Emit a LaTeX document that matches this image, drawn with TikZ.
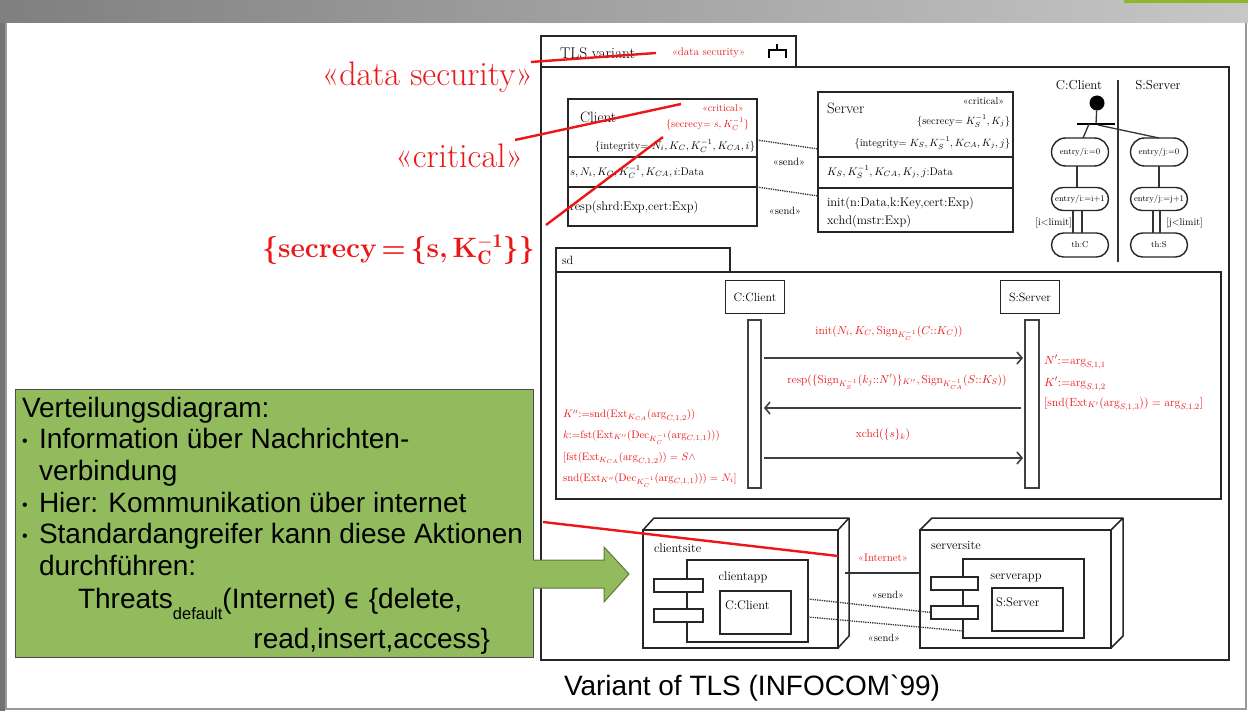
\RequirePackage{fix-cm}
\documentclass[tikz,border=0pt]{standalone}
\usepackage{fontspec}
\newfontfamily\sansf{Liberation Sans}
\newfontfamily\djv{DejaVu Sans}
\usetikzlibrary{arrows.meta,shapes.misc,calc}
\definecolor{annred}{RGB}{236,22,22}
\definecolor{boxgreen}{RGB}{146,187,93}
\definecolor{arrowedge}{RGB}{95,120,60}
\definecolor{accentgreen}{RGB}{141,185,40}
\newcommand{\setfs}[1]{\fontsize{#1}{#1}\selectfont}
\newcommand{\seclabel}{{\bfseries\{secrecy\,=\,\{s,\,K$_{\mathbf{C}}^{\mathbf{-1}}$\}\}}}
\tikzset{
  every node/.style={inner sep=0pt, outer sep=0pt},
  frm/.style={draw=black!85, line width=1.7pt, anchor=north west},
  box/.style={draw=black!85, line width=1.5pt, fill=white, anchor=north west},
  thinbox/.style={draw=black!85, line width=1.2pt, fill=white, anchor=north west},
  sep/.style={draw=black!85, line width=1.5pt},
  txt/.style={font=\setfs{#1}},
  lhead/.style={draw=black!85, line width=1.5pt, fill=white, minimum width=59pt, minimum height=33pt, font=\setfs{12}},
  actbar/.style={draw=black!75, line width=1.5pt, fill=white, anchor=north west},
  msg/.style={draw=black!75, line width=1.8pt, -{Straight Barb[length=5pt,width=12pt,line width=1.6pt]}},
  dotline/.style={draw=black!80, line width=1.3pt, densely dotted},
  state/.style={rounded rectangle, draw=black!85, line width=1.4pt, fill=white, minimum width=57pt, font=\setfs{8.5}},
  trans/.style={draw=black!80, line width=1.3pt},
  annline/.style={draw=annred, line width=2.4pt},
  bigred/.style={text=annred, font=\setfs{34}},
  redsm/.style={text=annred, font=\setfs{#1}},
  gtext/.style={anchor=base west, font=\sansf\setfs{28}},
  gbul/.style={anchor=base west, font=\sansf\setfs{16}},
}
\begin{document}
\begin{tikzpicture}[x=1pt,y=-1pt]
\useasboundingbox (0,0) rectangle (1248,711);
\fill[white] (0,0) rectangle (1248,711);
% header and page frame
\shade[left color=black!50,right color=black!22] (0,0) rectangle (1248,23);
\fill[accentgreen] (1124,0) rectangle (1248,3);
\draw[black!40,line width=1.5pt] (6,23) -- (6,709) -- (1246,709) -- (1246,23);
\fill[black!55] (0,23) rectangle (5,711);

% ---------------- main frame ----------------
\node[frm, minimum width=688pt, minimum height=593pt] (tls) at (541,67) {};
\node[frm, minimum width=255pt, minimum height=31pt] (tlstab) at (541,36) {};
\node[txt=15.5, anchor=west] (tlsname) at (560,53) {TLS variant};
\node[redsm=11, anchor=west] (tlsst) at (672,53) {«data security»};
\draw[line width=1.3pt] (777,44) -- (777,50) (769,58) -- (769,50) -- (786,50) -- (786,58);

% ---------------- class Client ----------------
\node[box, minimum width=189pt, minimum height=127pt] (client) at (568,99) {};
\draw[sep] ($(client.north west)+(0,58)$) -- ($(client.north east)+(0,58)$);
\draw[sep] ($(client.north west)+(0,88)$) -- ($(client.north east)+(0,88)$);
\node[txt=15, anchor=west] (cname) at (580,117) {Client};
\node[redsm=10] (ccrit) at (723,108) {«critical»};
\node[redsm=10.3, anchor=east] (csec) at (749,124) {\{secrecy$=s,K_C^{-1}$\}};
\node[txt=11, anchor=east] (cint) at (755,146) {\{integrity$=N_i,K_C,K_C^{-1},K_{CA},i$\}};
\node[txt=11, anchor=west] (cattr) at (570,172) {$s,N_i,K_C,K_C^{-1},K_{CA},i$:Data};
\node[txt=12.5, anchor=west] (cop) at (570,207) {resp(shrd:Exp,cert:Exp)};

% ---------------- class Server ----------------
\node[box, minimum width=195pt, minimum height=140pt] (server) at (818,92) {};
\draw[sep] ($(server.north west)+(0,65)$) -- ($(server.north east)+(0,65)$);
\draw[sep] ($(server.north west)+(0,96)$) -- ($(server.north east)+(0,96)$);
\node[txt=15, anchor=west] (sname) at (827,108) {Server};
\node[txt=10, anchor=east] (scrit) at (1004,101) {«critical»};
\node[txt=10.5, anchor=east] (ssec) at (1010,121) {\{secrecy$=K_S^{-1},K_j$\}};
\node[txt=10.5, anchor=east] (sint) at (1010,143) {\{integrity$=K_S,K_S^{-1},K_{CA},K_j,j$\}};
\node[txt=11, anchor=west] (sattr) at (827,172) {$K_S,K_S^{-1},K_{CA},K_j,j$:Data};
\node[txt=12.5, anchor=west] (sop1) at (827,203) {init(n:Data,k:Key,cert:Exp)};
\node[txt=12.5, anchor=west] (sop2) at (827,221) {xchd(mstr:Exp)};

\draw[dotline] ($(client.north east)+(0,41)$) -- ($(server.north west)+(0,57)$);
\draw[dotline] ($(client.north east)+(0,88)$) -- ($(server.north west)+(0,104)$);
\node[txt=10.5] (snd1) at (789,162) {«send»};
\node[txt=10.5] (snd2) at (785,211) {«send»};

% ---------------- activity diagram ----------------
\node[txt=13] (aclient) at (1079,85) {C:Client};
\node[txt=13] (aserver) at (1158,85) {S:Server};
\coordinate (divtop) at (1118,80);
\coordinate (divbot) at (1118,262);
\draw[black!80, line width=1.4pt] (divtop) -- (divbot);
\node[circle, fill=black, minimum size=15pt] (ini) at (1097,103) {};
\node[fill=black, minimum width=38pt, minimum height=2.5pt] (fork) at (1096,124) {};
\node[state, minimum height=28pt] (a1) at (1080,152) {entry/i:=0};
\node[state, minimum height=23pt] (a2) at (1080,199) {entry/i:=i+1};
\node[state, minimum height=24pt] (a3) at (1080,245) {th:C};
\node[state, minimum height=28pt] (b1) at (1159,152) {entry/j:=0};
\node[state, minimum height=23pt] (b2) at (1159,199) {entry/j:=j+1};
\node[state, minimum height=24pt] (b3) at (1159,245) {th:S};
\draw[trans] (ini) -- (fork);
\draw[trans] ($(fork.center)+(-7,0)$) -- ($(a1.north)+(3,0)$);
\draw[trans] ($(fork.center)+(2,1)$) -- (b1.north);
\draw[trans] ($(a1.south)+(-3,0)$) -- ($(a2.north)+(-3,0)$);
\draw[trans] (b1.south) -- (b2.north);
\draw[trans] ($(a2.south)+(-7,0)$) -- ($(a3.north)+(-7,0)$);
\draw[trans] ($(a2.south)+(2,0)$) -- ($(a3.north)+(2,0)$);
\draw[trans] ($(b2.south)+(-6,0)$) -- ($(b3.north)+(-6,0)$);
\draw[trans] ($(b2.south)+(1,0)$) -- ($(b3.north)+(1,0)$);
\node[txt=10, anchor=east] (ga) at (1072,223) {[i$<$limit]};
\node[txt=10, anchor=west] (gb) at (1166,223) {[j$<$limit]};

% ---------------- sequence diagram ----------------
\node[frm, minimum width=665pt, minimum height=227pt] (sd) at (556,272) {};
\node[frm, minimum width=174pt, minimum height=24pt] (sdtab) at (556,248) {};
\node[txt=12, anchor=west] (sdname) at (562,260) {sd};
\node[lhead] (cc) at (755,297) {C:Client};
\node[lhead] (ss) at (1030,297) {S:Server};
\node[actbar, minimum width=13pt, minimum height=168pt] (cbar) at (748,320) {};
\node[actbar, minimum width=14pt, minimum height=168pt] (sbar) at (1025,320) {};
\draw[msg] ($(cbar.north east)+(3,38)$) -- ($(sbar.north west)+(-2,38)$);
\draw[msg] ($(sbar.north west)+(-4,88)$) -- ($(cbar.north east)+(3,88)$);
\draw[msg] ($(cbar.north east)+(3,138)$) -- ($(sbar.north west)+(-2,138)$);
\node[redsm=11.5] (m1) at (889,333) {init$(N_i,K_C,\mathrm{Sign}_{K_C^{-1}}(C{::}K_C))$};
\node[redsm=11.5] (m2) at (897,382) {resp$(\{\mathrm{Sign}_{K_S^{-1}}(k_j{::}N')\}_{K''},\mathrm{Sign}_{K_{CA}^{-1}}(S{::}K_S))$};
\node[redsm=11.5] (m3) at (883,435) {xchd$(\{s\}_{k})$};
\node[redsm=11.8, anchor=west] (r1) at (1044,362) {$N'{:=}\mathrm{arg}_{S,1,1}$};
\node[redsm=11.8, anchor=west] (r2) at (1044,384) {$K'{:=}\mathrm{arg}_{S,1,2}$};
\node[redsm=11.8, anchor=west] (r3) at (1044,404) {$[\mathrm{snd}(\mathrm{Ext}_{K'}(\mathrm{arg}_{S,1,3}))=\mathrm{arg}_{S,1,2}]$};
\node[redsm=10.8, anchor=west] (l1) at (563,416) {$K''{:=}\mathrm{snd}(\mathrm{Ext}_{K_{CA}}(\mathrm{arg}_{C,1,2}))$};
\node[redsm=10.8, anchor=west] (l2) at (563,437) {$k{:=}\mathrm{fst}(\mathrm{Ext}_{K''}(\mathrm{Dec}_{K_C^{-1}}(\mathrm{arg}_{C,1,1})))$};
\node[redsm=10.8, anchor=west] (l3) at (563,459) {$[\mathrm{fst}(\mathrm{Ext}_{K_{CA}}(\mathrm{arg}_{C,1,2}))=S\wedge$};
\node[redsm=10.8, anchor=west] (l4) at (563,480) {$\mathrm{snd}(\mathrm{Ext}_{K''}(\mathrm{Dec}_{K_C^{-1}}(\mathrm{arg}_{C,1,1})))=N_i]$};

% ---------------- deployment diagram ----------------
\node[box, minimum width=195pt, minimum height=118pt] (cs) at (643,530) {};
\draw[black!85, line width=1.5pt, line join=round] (cs.north west) -- ++(11,-12) -- ($(cs.north east)+(11,-12)$) -- (cs.north east)
  ($(cs.north east)+(11,-12)$) -- ($(cs.south east)+(11,-12)$) -- (cs.south east);
\node[txt=12.5, anchor=west] (csname) at (654,548) {clientsite};
\node[thinbox, minimum width=121pt, minimum height=82pt] (capp) at (687,560) {};
\node[thinbox, minimum width=49pt, minimum height=13pt] (cp1) at (654,579) {};
\node[thinbox, minimum width=49pt, minimum height=13pt] (cp2) at (654,609) {};
\node[txt=12.5] (cappname) at (743,577) {clientapp};
\node[thinbox, minimum width=71pt, minimum height=43pt] (cobj) at (720,591) {};
\node[txt=12.5, anchor=west] (cobjname) at (725,605) {C:Client};

\node[box, minimum width=191pt, minimum height=118pt] (ssite) at (920,530) {};
\draw[black!85, line width=1.5pt, line join=round] (ssite.north west) -- ++(12,-12) -- ($(ssite.north east)+(12,-12)$) -- (ssite.north east)
  ($(ssite.north east)+(12,-12)$) -- ($(ssite.south east)+(12,-12)$) -- (ssite.south east);
\node[txt=12.5, anchor=west] (ssname) at (931,545) {serversite};
\node[thinbox, minimum width=121pt, minimum height=79pt] (sapp) at (963,559) {};
\node[thinbox, minimum width=47pt, minimum height=13pt] (sp1) at (931,577) {};
\node[thinbox, minimum width=47pt, minimum height=13pt] (sp2) at (931,606) {};
\node[txt=12.5] (sappname) at (1016,578) {serverapp};
\node[thinbox, minimum width=71pt, minimum height=43pt] (sobj) at (992,588) {};
\node[txt=12.5, anchor=west] (sobjname) at (996,602) {S:Server};

\draw[black!80, line width=1.3pt] ($(cs.east)+(7,-16)$) -- ($(ssite.west)+(0,-16)$);
\node[redsm=11] (inet) at (883,558) {«Internet»};
\draw[dotline] ($(capp.north east)+(0,39)$) -- (sp2.west);
\draw[dotline] ($(capp.north east)+(0,57)$) -- ($(sapp.north west)+(0,72)$);
\node[txt=10.5] (snd3) at (888,595) {«send»};
\node[txt=10.5] (snd4) at (884,638) {«send»};

% ---------------- caption ----------------
\node[font=\sansf\setfs{28}] (caption) at (752,688) {Variant of TLS (INFOCOM`99)};

% ---------------- green note ----------------
\node[draw=black!70, line width=1pt, fill=boxgreen, anchor=north west, minimum width=518pt, minimum height=268pt] (gbox) at (15,389) {};
\node[gtext] (g1) at (22,417) {Verteilungsdiagram:};
\node[gbul] (gb1) at (22,446) {•};
\node[gtext] (g2) at (39,448) {Information über Nachrichten-};
\node[gtext] (g3) at (39,480) {verbindung};
\node[gbul] (gb2) at (22,510) {•};
\node[gtext] (g4) at (39,512) {Hier: Kommunikation über internet};
\node[gbul] (gb3) at (22,541) {•};
\node[gtext] (g5) at (39,543) {Standardangreifer kann diese Aktionen};
\node[gtext] (g6) at (39,575) {durchführen:};
\node[gtext] (g7) at (78,608) {Threats\raisebox{-11pt}{\setfs{16.5}default}(Internet) {\djv ϵ} \{delete,};
\node[anchor=base east, font=\sansf\setfs{28}] (g8) at (490,648) {read,insert,access\}};
\draw[draw=arrowedge, line width=1pt, fill=boxgreen, line join=miter]
  ($(gbox.north east)+(0,171)$) -- ++(71,0) -- ++(0,-13) -- ++(25,27) -- ++(-25,28) -- ++(0,-14) -- ++(-71,0);

% ---------------- red annotations ----------------
\node[bigred, anchor=east] (ds) at (533,77) {«data security»};
\node[bigred, anchor=east] (crit) at (523,156) {«critical»};
\node[redsm=28, anchor=east] (seclbl) at (535,250) {\seclabel};
\coordinate (dsA) at (531,62);
\coordinate (dsB) at (656,53);
\coordinate (crA) at (515,140);
\coordinate (crB) at (681,104);
\coordinate (seA) at (546,225);
\coordinate (seB) at (663,137);
\coordinate (inA) at (543,522);
\coordinate (inB) at (838,556);
\draw[annline] (dsA) -- (dsB);
\draw[annline] (crA) -- (crB);
\draw[annline] (seA) -- (seB);
\draw[annline] (inA) -- (inB);
\end{tikzpicture}
\end{document}
